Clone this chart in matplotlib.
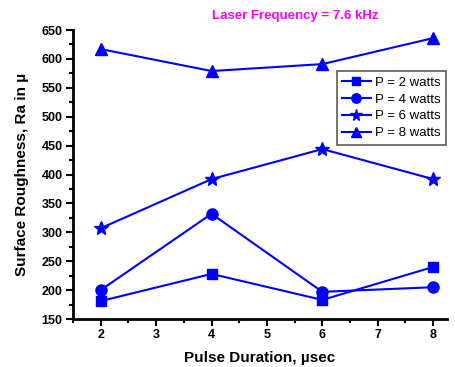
import numpy as np
import matplotlib
matplotlib.use('Agg')
import matplotlib.pyplot as plt
from matplotlib.ticker import MultipleLocator

plt.rcParams['font.family'] = ['Liberation Sans', 'DejaVu Sans']

pulse = [2, 4, 6, 8]
ra_2w = [181, 228, 183, 240]
ra_4w = [200, 332, 197, 205]
ra_6w = [307, 392, 444, 392]
ra_8w = [617, 579, 591, 636]

series = [
    ('P = 2 watts', ra_2w, 's', 7),
    ('P = 4 watts', ra_4w, 'o', 8),
    ('P = 6 watts', ra_6w, '*', 10),
    ('P = 8 watts', ra_8w, '^', 9),
]

fig = plt.figure(figsize=(4.55, 3.67), dpi=100)
ax = fig.add_axes([73 / 455, 48 / 367, 374 / 455, 289 / 367])

for label, vals, mk, ms in series:
    ax.plot(pulse, vals, '-', color='#0000ff', lw=1.5, marker=mk,
            markersize=ms, label=label)

ax.set_xlim(1.5, 8.25)
ax.set_ylim(150, 650)
ax.xaxis.set_major_locator(MultipleLocator(1))
ax.xaxis.set_minor_locator(MultipleLocator(0.5))
ax.yaxis.set_major_locator(MultipleLocator(50))
ax.yaxis.set_minor_locator(MultipleLocator(25))

ax.spines['top'].set_visible(False)
ax.spines['right'].set_visible(False)
for s in ['left', 'bottom']:
    ax.spines[s].set_linewidth(2)
ax.tick_params(which='major', direction='out', length=5, width=1.5,
               labelsize=9, pad=2.5)
ax.tick_params(which='minor', direction='out', length=3, width=1.5)
for lbl in ax.get_xticklabels() + ax.get_yticklabels():
    lbl.set_fontweight('bold')

ax.set_xlabel('Pulse Duration, µsec', fontsize=11, fontweight='bold',
              labelpad=7)
ax.set_ylabel('Surface Roughness, Ra in µ', fontsize=11, fontweight='bold',
              labelpad=9)

fig.text(295 / 455, 1 - 16 / 367, 'Laser Frequency = 7.6 kHz',
         color='#ff00ff', fontsize=9.5, fontweight='bold',
         ha='center', va='center')

leg = ax.legend(loc='upper right', bbox_to_anchor=(1.0, 0.862),
                fontsize=9.5, frameon=True, fancybox=False,
                edgecolor='#333333', handlelength=2.2, borderpad=0.4,
                labelspacing=0.35, handletextpad=0.3, markerscale=0.85,
                borderaxespad=0.1)
leg.get_frame().set_linewidth(1.2)

fig.savefig('out.png', dpi=100)
